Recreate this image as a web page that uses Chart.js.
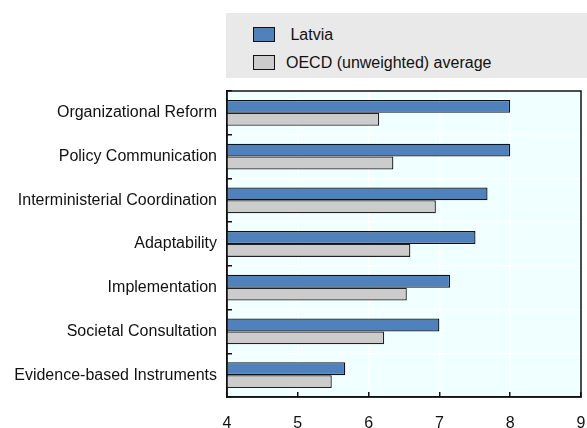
<!DOCTYPE html>
<html>
<head>
<meta charset="utf-8">
<script src="https://cdn.jsdelivr.net/npm/chart.js@4/dist/chart.umd.min.js"></script>
<style>
    html, body { margin: 0; padding: 0; background: #fff; overflow: hidden; }
    #wrap { position: relative; width: 587px; height: 428px; }
    #chart { display: block; }
    #legend {
        position: absolute; left: 226px; top: 13px; width: 361px; height: 65px;
        background: #e9e9e9;
        font-family: "Liberation Sans", Arial, sans-serif; font-size: 16px; color: #111;
    }
    .lg-item { position: absolute; left: 27px; display: flex; align-items: center; height: 15px; }
    .lg-box { width: 20px; height: 13px; border: 1px solid #111; margin-right: 11px; }
</style>
</head>
<body>
<div id="wrap">
    <canvas id="chart" width="587" height="428"></canvas>
    <div id="legend"></div>
</div>
<script>
// Data
const categories = [
    'Organizational Reform',
    'Policy Communication',
    'Interministerial Coordination',
    'Adaptability',
    'Implementation',
    'Societal Consultation',
    'Evidence-based Instruments'
];
const latvia = [8.0, 8.0, 7.68, 7.51, 7.15, 7.0, 5.67];
const oecdAvg = [6.15, 6.35, 6.95, 6.59, 6.54, 6.22, 5.48];
const seriesNames = ['Latvia', 'OECD (unweighted) average'];
const seriesColors = ['#4F81BD', '#CCCCCC'];
const xTicks = [4, 5, 6, 7, 8, 9];

const FONT = '"Liberation Sans", Arial, sans-serif';

// Legend (html)
const legend = document.getElementById('legend');
seriesNames.forEach((name, i) => {
    const item = document.createElement('div');
    item.className = 'lg-item';
    item.style.top = (i === 0 ? 14 : 42) + 'px';
    item.innerHTML = `<div class="lg-box" style="background:${seriesColors[i]}"></div><span>${i === 0 ? '&nbsp;' : ''}${name}</span>`;
    legend.appendChild(item);
});

// plot background + frame
const plotFrame = {
    id: 'plotFrame',
    beforeDraw(chart) {
        const a = chart.chartArea;
        const ctx = chart.ctx;
        ctx.save();
        ctx.fillStyle = '#F0FFFF';
        ctx.fillRect(a.left, a.top, a.right - a.left, a.bottom - a.top);
        ctx.restore();
    },
    afterDraw(chart) {
        const a = chart.chartArea;
        const ctx = chart.ctx;
        ctx.save();
        ctx.strokeStyle = '#111';
        ctx.lineWidth = 1.5;
        ctx.strokeRect(a.left, a.top, a.right - a.left, a.bottom - a.top);
        ctx.restore();
    }
};

new Chart(document.getElementById('chart'), {
    type: 'bar',
    data: {
        labels: categories,
        datasets: [
            {
                label: seriesNames[0],
                data: latvia,
                backgroundColor: seriesColors[0],
                borderColor: '#111',
                borderWidth: 1.3,
                borderSkipped: false
            },
            {
                label: seriesNames[1],
                data: oecdAvg,
                backgroundColor: seriesColors[1],
                borderColor: '#222',
                borderWidth: 1.3,
                borderSkipped: false
            }
        ]
    },
    options: {
        indexAxis: 'y',
        responsive: false,
        animation: false,
        categoryPercentage: 0.59,
        barPercentage: 1.0,
        layout: { padding: { top: 91, right: 6, bottom: 0, left: 0 } },
        plugins: {
            legend: { display: false },
            tooltip: { enabled: false }
        },
        scales: {
            x: {
                min: xTicks[0],
                max: xTicks[xTicks.length - 1],
                afterBuildTicks: scale => { scale.ticks = xTicks.map(v => ({ value: v })); },
                afterFit: scale => {
                    scale.height = 31;
                    scale.paddingLeft = 0;
                    scale.paddingRight = 0;
                },
                grid: {
                    color: '#ffffff',
                    lineWidth: 1.5,
                    tickColor: '#111',
                    tickLength: -5
                },
                border: { display: true, color: '#111', width: 1.5 },
                ticks: {
                    padding: 22,
                    color: '#111',
                    font: { family: FONT, size: 16 }
                }
            },
            y: {
                afterFit: scale => {
                    scale.width = 227;
                    scale.paddingTop = 0;
                    scale.paddingBottom = 0;
                },
                grid: {
                    offset: true,
                    color: '#ffffff',
                    lineWidth: 1.5,
                    tickColor: '#111',
                    tickLength: -5
                },
                border: { display: true, color: '#111', width: 1.5 },
                ticks: {
                    padding: 15,
                    color: '#111',
                    font: { family: FONT, size: 16 }
                }
            }
        }
    },
    plugins: [plotFrame]
});
</script>
</body>
</html>
